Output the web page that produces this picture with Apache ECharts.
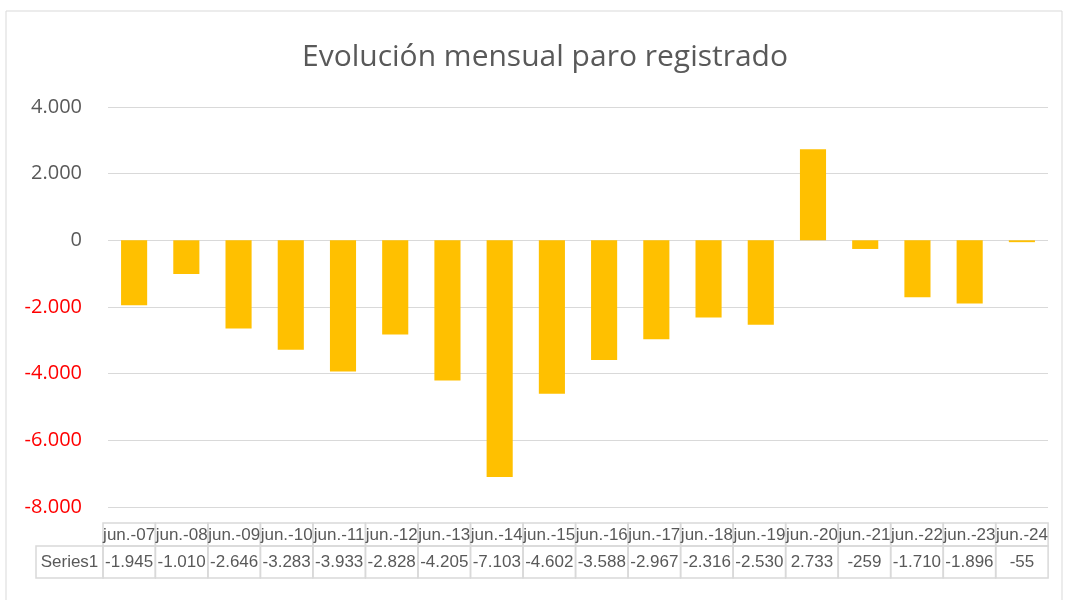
<!DOCTYPE html>
<html>
<head>
<meta charset="utf-8">
<script src="https://cdn.jsdelivr.net/npm/echarts@6/dist/echarts.min.js"></script>
<style>
html,body{margin:0;padding:0;background:#fff;}
#main{width:1065px;height:600px;}
</style>
</head>
<body>
<div id="main"></div>
<script>
const title = 'Evolución mensual paro registrado';
const seriesName = 'Series1';
const categories = ['jun.-07','jun.-08','jun.-09','jun.-10','jun.-11','jun.-12','jun.-13','jun.-14','jun.-15','jun.-16','jun.-17','jun.-18','jun.-19','jun.-20','jun.-21','jun.-22','jun.-23','jun.-24'];
const values = [-1945,-1010,-2646,-3283,-3933,-2828,-4205,-7103,-4602,-3588,-2967,-2316,-2530,2733,-259,-1710,-1896,-55];
const yMin = -8000, yMax = 4000, yInterval = 2000;

function fmt(v){
  v = Number(v);
  const s = Math.abs(v).toString().replace(/\B(?=(\d{3})+(?!\d))/g,'.');
  return (v < 0 ? '-' : '') + s;
}

const chart = echarts.init(document.getElementById('main'), null, {renderer:'canvas'});
const gray = '#595959';
const lineGray = '#d9d9d9';

const option = {
  animation: false,
  backgroundColor: '#fff',
  title: {
    text: title,
    left: 297,
    top: 37,
    textStyle: {fontFamily: 'Open Sans', fontWeight: 'normal', fontSize: 30, color: gray}
  },
  grid: {left: 108, right: 17, top: 107, bottom: 93, containLabel: false},
  xAxis: {
    type: 'category',
    data: categories,
    axisLine: {show: false},
    axisTick: {show: false},
    axisLabel: {show: false},
    splitLine: {show: false}
  },
  yAxis: {
    type: 'value',
    min: yMin, max: yMax, interval: yInterval,
    axisLine: {show: false},
    axisTick: {show: false},
    axisLabel: {
      margin: 26,
      fontFamily: 'Open Sans',
      fontSize: 20,
      formatter: fmt,
      color: function(v){ return Number(v) < 0 ? '#ff0000' : gray; }
    },
    splitLine: {lineStyle: {color: lineGray, width: 1}}
  },
  series: [{
    name: seriesName,
    type: 'bar',
    data: values,
    barCategoryGap: '50%',
    itemStyle: {color: '#FFC000'}
  }]
};
chart.setOption(option);

// Build data table below the plot from the category scale
const graphics = [];
graphics.push({type:'rect', shape:{x:6, y:11, width:1056, height:600}, style:{fill:'none', stroke:lineGray, lineWidth:1}, silent:true, z:-1});
const c0 = chart.convertToPixel({xAxisIndex:0}, 0);
const c1 = chart.convertToPixel({xAxisIndex:0}, 1);
const w = c1 - c0;
const hdrY = 523, hdrH = 23, valY = 546, valH = 32;
const tf = {fontFamily:'Liberation Sans, Arial', fontSize:17, fill:gray};
categories.forEach(function(cat, i){
  const cx = chart.convertToPixel({xAxisIndex:0}, i);
  const x = cx - w/2 - 5 + i*0.3;
  graphics.push({type:'rect', shape:{x:x, y:hdrY, width:w, height:hdrH}, style:{fill:'none', stroke:lineGray, lineWidth:1.5}, silent:true});
  graphics.push({type:'rect', shape:{x:x, y:valY, width:w, height:valH}, style:{fill:'none', stroke:lineGray, lineWidth:1.5}, silent:true});
  graphics.push({type:'text', x:x + w/2, y:hdrY + hdrH/2 + 1, style:Object.assign({text:cat, align:'center', verticalAlign:'middle'}, tf), silent:true});
  graphics.push({type:'text', x:x + w/2, y:valY + valH/2, style:Object.assign({text:fmt(values[i]), align:'center', verticalAlign:'middle'}, tf), silent:true});
});
const firstX = c0 - w/2 - 5;
graphics.push({type:'rect', shape:{x:36, y:valY, width:firstX-36, height:valH}, style:{fill:'none', stroke:lineGray, lineWidth:1.5}, silent:true});
graphics.push({type:'text', x:(36+firstX)/2, y:valY + valH/2, style:Object.assign({text:seriesName, align:'center', verticalAlign:'middle'}, tf), silent:true});
chart.setOption({graphic: graphics});
</script>
</body>
</html>
